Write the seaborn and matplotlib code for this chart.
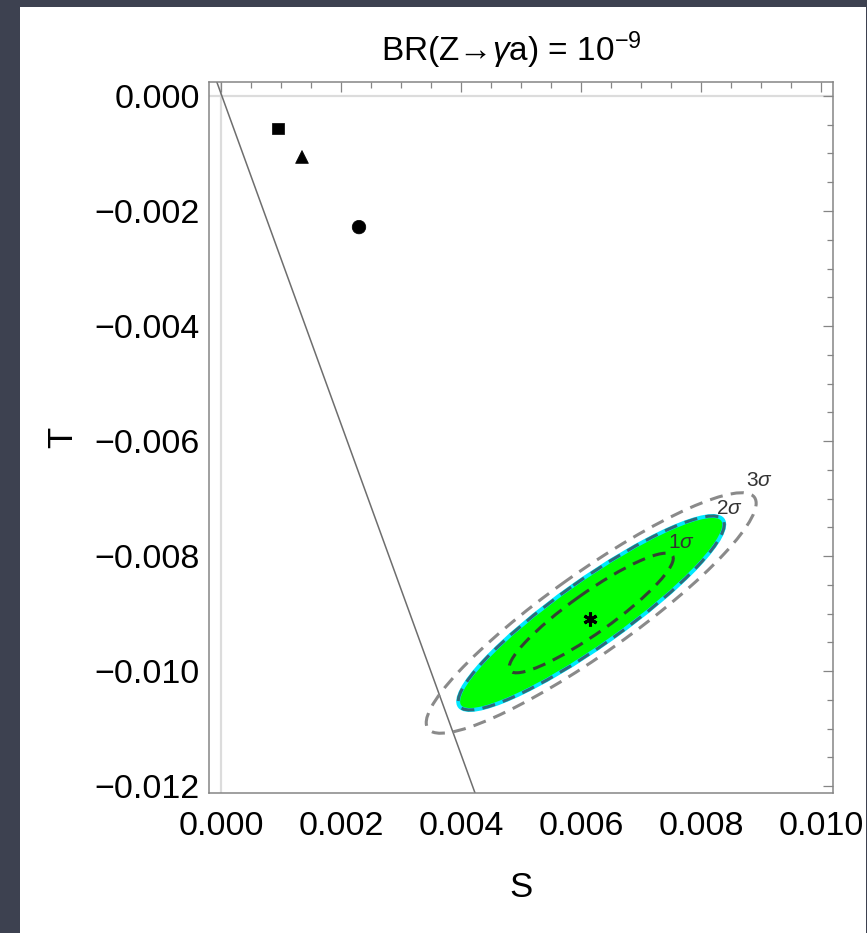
import numpy as np
import pandas as pd
import matplotlib
matplotlib.use("Agg")
import matplotlib.pyplot as plt
from matplotlib.patches import Ellipse, Rectangle
from matplotlib.ticker import FixedLocator, MultipleLocator
import seaborn as sns

# ---------------- data ----------------
point_kind = ["square", "triangle", "circle"]
point_S = [0.00095, 0.00135, 0.00230]
point_T = [-0.00056, -0.00106, -0.00228]

best_S = [0.00615]
best_T = [-0.00910]

# experimental fit ellipse (centre, sigmas, correlation)
fit_S0, fit_T0 = 0.00617, -0.00899
fit_sigS, fit_sigT, fit_rho = 0.000906, 0.000689, 0.912
level_names = ["1σ", "2σ", "3σ"]
level_dchi2 = [2.28, 5.99, 9.21]
level_label_S = [0.00768, 0.00848, 0.00898]
level_label_T = [-0.00776, -0.00717, -0.00668]

# constraint line
line_S = [-0.00010, 0.00430]
line_T = [0.00033, -0.01231]

x_ticks = [0.000, 0.002, 0.004, 0.006, 0.008, 0.010]
x_ticklabels = ["0.000", "0.002", "0.004", "0.006", "0.008", "0.010"]
y_ticks = [0.000, -0.002, -0.004, -0.006, -0.008, -0.010, -0.012]
y_ticklabels = ["0.000", "\u22120.002", "\u22120.004", "\u22120.006",
                "\u22120.008", "\u22120.010", "\u22120.012"]

# ---------------- style ----------------
sns.set_theme(style="white")
FONT = "Liberation Sans"
plt.rcParams["font.family"] = [FONT, "DejaVu Sans"]
plt.rcParams["mathtext.fontset"] = "custom"
plt.rcParams["mathtext.rm"] = FONT
plt.rcParams["mathtext.it"] = FONT + ":italic"
plt.rcParams["mathtext.bf"] = FONT + ":bold"
plt.rcParams["axes.unicode_minus"] = True

W, H = 867, 933
fig = plt.figure(figsize=(W / 100, H / 100), dpi=100)
fig.patch.set_facecolor("#3d4150")
fig.add_artist(Rectangle((20 / W, 0), (866 - 20) / W, (H - 7) / H,
                         transform=fig.transFigure, facecolor="white",
                         edgecolor="none", zorder=0))

ax = fig.add_axes([209 / W, (H - 793) / H, 624 / W, 711 / H])
ax.set_facecolor("white")
ax.set_xlim(-0.0002, 0.0102)
ax.set_ylim(-0.01212, 0.000243)

# origin axes (Mathematica style)
ax.axhline(0, color="#dcdcdc", lw=1.6, zorder=0.5)
ax.axvline(0, color="#dcdcdc", lw=1.6, zorder=0.5)

# ellipses
cov = np.array([[fit_sigS ** 2, fit_rho * fit_sigS * fit_sigT],
                [fit_rho * fit_sigS * fit_sigT, fit_sigT ** 2]])
vals, vecs = np.linalg.eigh(cov)
order = vals.argsort()[::-1]
vals, vecs = vals[order], vecs[:, order]
angle = np.degrees(np.arctan2(vecs[1, 0], vecs[0, 0]))

def ell(k, **kw):
    return Ellipse((fit_S0, fit_T0), 2 * np.sqrt(vals[0] * k), 2 * np.sqrt(vals[1] * k),
                   angle=angle, **kw)

ax.add_patch(ell(level_dchi2[1], facecolor="#00ff00", edgecolor="#00e8ff", lw=2.8, zorder=2))
dash_cols = ["#344234", "#2f6a7a", "#8a8a8a"]
for k, c in zip(level_dchi2, dash_cols):
    ax.add_patch(ell(k, facecolor="none", edgecolor=c, lw=2.2,
                     linestyle=(0, (4.3, 2.7)), zorder=3))
for name, sx, ty in zip(level_names, level_label_S, level_label_T):
    ax.text(sx, ty, name[0] + r"$\mathit{\sigma}$", fontsize=15, ha="center", va="center",
            color="#333333", zorder=4)

# constraint line
sns.lineplot(x=line_S, y=line_T, color="#6e6e6e", lw=1.1, sort=False,
             estimator=None, ax=ax, zorder=1.5)

# model points
df = pd.DataFrame({"S": point_S, "T": point_T, "kind": point_kind})
sns.scatterplot(data=df, x="S", y="T", style="kind", size="kind",
                markers={"square": "s", "triangle": "^", "circle": "o"},
                sizes={"square": 66, "triangle": 85, "circle": 95},
                color="black", edgecolor="black", linewidth=0.5,
                legend=False, ax=ax, zorder=5)
ax.plot(best_S, best_T, linestyle="none", marker=(6, 2, 0), markersize=10,
        markeredgewidth=2.2, color="black", zorder=5)

# frame / ticks
for sp in ax.spines.values():
    sp.set_color("#858585")
    sp.set_linewidth(1.1)
    sp.set_visible(True)
ax.xaxis.set_major_locator(FixedLocator(x_ticks))
ax.yaxis.set_major_locator(FixedLocator(y_ticks))
ax.set_xticklabels(x_ticklabels)
ax.set_yticklabels(y_ticklabels)
ax.xaxis.set_minor_locator(MultipleLocator(0.0005))
ax.yaxis.set_minor_locator(MultipleLocator(0.0005))
ax.tick_params(which="both", direction="in", top=True, right=True,
               color="#858585", width=0.9)
ax.tick_params(which="major", length=7.2)
ax.tick_params(which="minor", length=4.3)
ax.tick_params(axis="x", which="major", labelsize=24.5, pad=13, labelcolor="black")
ax.tick_params(axis="y", which="major", labelsize=24.5, pad=6.5, labelcolor="black")

ax.set_xlabel("S", fontsize=25, labelpad=21, color="black")
ax.set_ylabel("T", fontsize=25, labelpad=11, color="black")
ax.set_title(r"BR(Z→$\mathit{\gamma}$a) = 10$^{-9}$", fontsize=24, pad=15,
             x=0.484, color="black")

fig.savefig("out.png", dpi=100, facecolor=fig.get_facecolor())
